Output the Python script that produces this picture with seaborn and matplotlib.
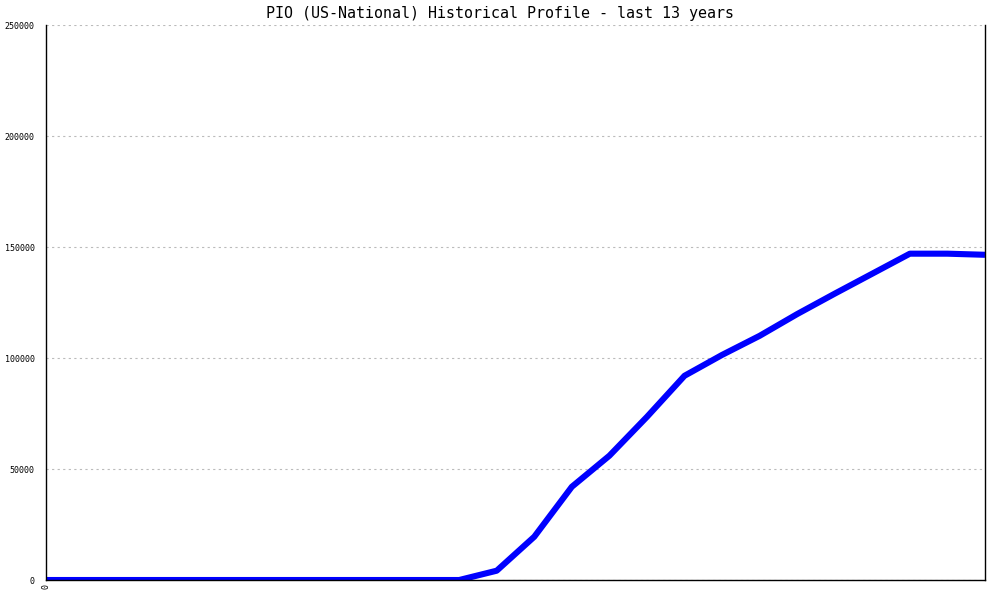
import matplotlib
matplotlib.use('Agg')
import matplotlib.pyplot as plt
import seaborn as sns
import pandas as pd

# semiannual samples over the last 13 years
periods = list(range(26))
values = [0, 0, 0, 0, 0, 0, 0, 0, 0, 0, 0, 0,
          4200, 19500, 42000, 56000, 73500, 92000, 101400, 110000,
          119800, 129000, 138000, 147000, 147000, 146500]
y_ticks = [0, 50000, 100000, 150000, 200000, 250000]
x_tick_labels = ["0"]
title = "PIO (US-National) Historical Profile - last 13 years"

df = pd.DataFrame({"period": periods, "value": values})

sns.set_style("white")
plt.rcParams['font.family'] = ['DejaVu Sans Mono']
plt.rcParams['text.color'] = 'black'
plt.rcParams['xtick.color'] = 'black'
plt.rcParams['ytick.color'] = 'black'

fig = plt.figure(figsize=(10, 6), dpi=100)
ax = fig.add_axes([0.046, 0.0333, 0.939, 0.925])

sns.lineplot(data=df, x="period", y="value", color="#0000ff", linewidth=4.4, ax=ax,
             solid_capstyle="butt")

ax.set_xlim(0, len(periods) - 1)
ax.set_ylim(0, 250000)
ax.set_yticks(y_ticks)
ax.set_yticklabels([str(v) for v in y_ticks], fontsize=6)
ax.set_xticks([0])
ax.set_xticklabels(x_tick_labels, fontsize=6, rotation=90)
ax.yaxis.grid(True, linestyle=(0, (2, 3)), color="#bbbbbb", linewidth=0.8)
ax.set_axisbelow(True)
ax.tick_params(axis='y', direction='out', length=5, width=1, color='black', pad=3)
ax.tick_params(axis='x', length=0, pad=3)
ax.set_xlabel("")
ax.set_ylabel("")

for side in ["left", "bottom", "right"]:
    ax.spines[side].set_color("black")
    ax.spines[side].set_linewidth(1)
ax.spines["top"].set_visible(False)

fig.text(0.5, 0.978, title, ha="center", va="center", fontsize=10.8,
         color="black", fontweight="medium")

fig.savefig("out.png", dpi=100)
plt.close(fig)
